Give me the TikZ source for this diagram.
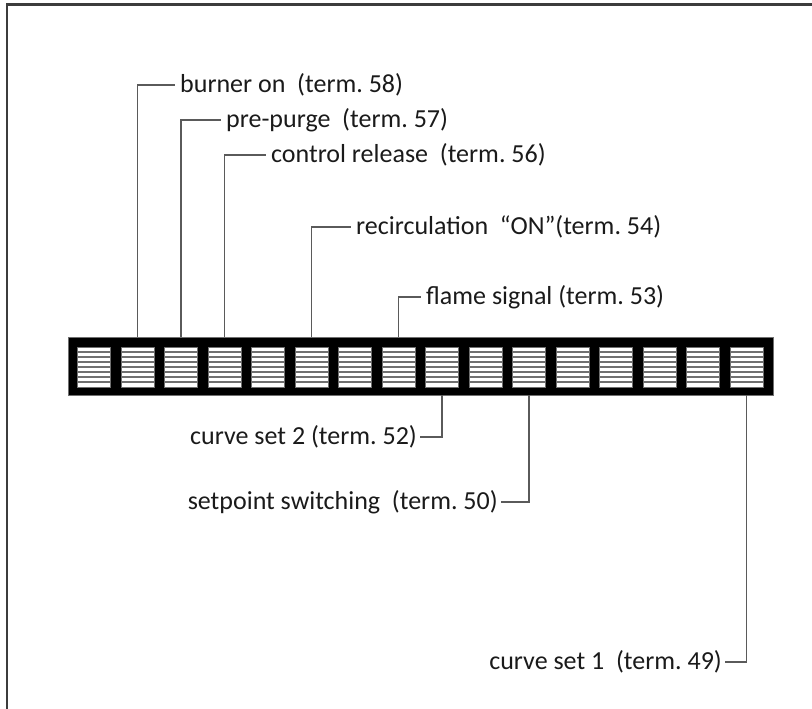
\documentclass[tikz,border=0pt]{standalone}
\usepackage{fontspec}
\setmainfont{Carlito}
\usepackage{tikz}
\usetikzlibrary{positioning}

\begin{document}
\begin{tikzpicture}[x=1pt, y=-1pt, font=\fontsize{26}{30}\selectfont]

\definecolor{termink}{HTML}{1A1A1A}
\definecolor{termwire}{HTML}{5A5A5A}
\definecolor{termframe}{HTML}{3C3C3C}
\definecolor{termslot}{HTML}{707070}

% Each terminal window is a white cell crossed by thin grey bars.
\newcommand{\termStripes}{%
  \foreach \stripey in {1,...,7}{%
    \draw[termslot, line width=1.4pt]
      ([yshift=-\stripey*5pt]path picture bounding box.north west) -- ++(40pt,0pt);
  }%
}

\tikzset{
  terminalbar/.style={
    rectangle, draw=termslot, fill=black, line width=0.8pt,
    minimum width=705pt, minimum height=58pt, inner sep=0pt
  },
  slot/.style={
    rectangle, draw=termslot, fill=white, line width=1pt,
    minimum width=33pt, minimum height=40pt, inner sep=0pt,
    path picture={\termStripes}
  },
  termlabel/.style={text=termink, inner sep=5pt},
  lowlabel/.style={text=termink, inner sep=3pt},
  leadwire/.style={draw=termwire, line width=1.8pt}
}

\useasboundingbox (0,0) rectangle (812,709);

% Frame: only the top and left edges are drawn.
\draw[termframe, line width=2.6pt] (7,709) -- (7,4.5) -- (812,4.5);

% The terminal strip with its sixteen windows.
\node[terminalbar] (bar) at (420.5,366) {};
\foreach \i in {1,...,16}
  \node[slot] (s\i) at ({94+43.5*(\i-1)},367) {};

% Labels above the strip.
\node[termlabel, anchor=west] (lburner)  at (175,85)  {burner on\ \ (term.~58)};
\node[termlabel, anchor=west] (lpurge)   at (221,120) {pre-purge\ \ (term.~57)};
\node[termlabel, anchor=west] (lcontrol) at (266,155) {control release\ \ (term.~56)};
\node[termlabel, anchor=west] (lrecirc)  at (351,227) {recirculation\ \ “ON”(term.~54)};
\node[termlabel, anchor=west] (lflame)   at (421,297) {flame signal (term.~53)};

% Labels below the strip.
\node[lowlabel, anchor=east] (lcurvetwo) at (420,437) {curve set 2 (term.~52)};
\node[lowlabel, anchor=east] (lsetpoint) at (501,502) {setpoint switching\ \ (term.~50)};
\node[lowlabel, anchor=east] (lcurveone) at (725,662) {curve set 1\ \ (term.~49)};

% Lead wires from the windows to their labels.
\foreach \from/\to in {s2/lburner, s3/lpurge, s4/lcontrol, s6/lrecirc, s8/lflame}
  \draw[leadwire] (\from |- bar.north) |- (\to.west);
\foreach \from/\to in {s9/lcurvetwo, s11/lsetpoint, s16/lcurveone}
  \draw[leadwire] (\from |- bar.south) |- (\to.east);

\end{tikzpicture}
\end{document}
